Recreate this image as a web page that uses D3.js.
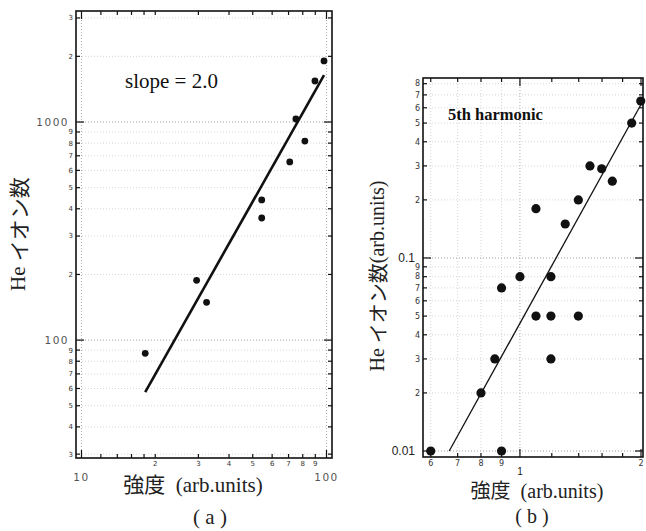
<!DOCTYPE html>
<html>
<head>
<meta charset="utf-8">
<script src="https://cdn.jsdelivr.net/npm/d3@7"></script>
<style>
  body { margin: 0; background: #fff; }
  svg { display: block; }
</style>
</head>
<body>
<div id="chart"></div>
<script>
// ---- data ----
// panel (a): He ion count vs intensity
const intensityA = [18.2, 29.5, 32.4, 54.4, 54.4, 70.8, 75, 81.6, 89.7, 97.7];
const ionsA = [87, 188, 149, 439, 363, 656, 1032, 818, 1542, 1905];
const fitIntensityA = [18.2, 97.7];
const fitIonsA = [57.7, 1640];
const xTicksA = [12, 14, 16, 18, 20, 30, 40, 50, 60, 70, 80, 90];
const yTicksA = [30, 40, 50, 60, 70, 80, 90, 200, 300, 400, 500, 600, 700, 800, 900, 2000, 3000];

// panel (b): 5th harmonic
const intensityB = [0.6, 0.8, 0.866, 0.9, 0.9, 1.0, 1.096, 1.096, 1.194, 1.194, 1.194, 1.296, 1.397, 1.397, 1.493, 1.597, 1.697, 1.896, 1.997];
const ionsB = [0.01, 0.02, 0.03, 0.07, 0.01, 0.08, 0.18, 0.05, 0.08, 0.05, 0.03, 0.15, 0.2, 0.05, 0.3, 0.29, 0.25, 0.5, 0.65];
const fitIntensityB = [0.667, 2.03];
const fitIonsB = [0.01, 0.66];
const xTicksB = [0.6, 0.7, 0.8, 0.9, 1.2, 1.4, 1.6, 1.8];
const yTicksB = [0.02, 0.03, 0.04, 0.05, 0.06, 0.07, 0.08, 0.09, 0.2, 0.3, 0.4, 0.5, 0.6, 0.7, 0.8];

const width = 646;
const height = 531;

const svg = d3.select("#chart")
  .append("svg")
  .attr("width", width)
  .attr("height", height);

const serif = "'Liberation Serif', serif";
const cjk = "'Noto Sans CJK JP', sans-serif";

// first digit of a tick value (9 for 900, 7 for 0.07 ...)
function leadDigit(v) {
  return String(Math.round(v / Math.pow(10, Math.floor(Math.log10(v) + 1e-9))));
}

// text made of pieces: [string, isCJK]
function addPieces(text, pieces) {
  pieces.forEach(([s, isCjk]) => {
    text.append("tspan")
      .attr("font-family", isCjk ? cjk : serif)
      .attr("xml:space", "preserve")
      .text(s);
  });
}

function drawPanel(p) {
  const x = d3.scaleLog().domain(p.xDomain).range(p.xRange);
  const y = d3.scaleLog().domain(p.yDomain).range(p.yRange);
  const [x0, x1] = p.xRange;
  const [y1, y0] = p.yRange; // y1 = bottom, y0 = top
  const g = svg.append("g");

  // dotted grid
  g.selectAll("line.vgrid")
    .data(p.xGrid)
    .enter().append("line")
    .attr("x1", d => x(d)).attr("x2", d => x(d))
    .attr("y1", y0).attr("y2", y1)
    .attr("stroke", d => p.xMajor.includes(d) ? "#999" : "#ccc")
    .attr("stroke-width", 0.8)
    .attr("stroke-dasharray", "1,2");

  g.selectAll("line.hgrid")
    .data(p.yTicks.concat(p.yMajor))
    .enter().append("line")
    .attr("x1", x0).attr("x2", x1)
    .attr("y1", d => y(d)).attr("y2", d => y(d))
    .attr("stroke", d => p.yMajor.includes(d) ? "#888" : "#ccc")
    .attr("stroke-width", 0.8)
    .attr("stroke-dasharray", "1,2");

  // inward ticks on all four sides
  const tickLen = d => (p.yMajor.includes(d) || p.xMajor.includes(d)) ? 8 : 4;
  const allX = p.xTicks.concat(p.xMajor);
  const allY = p.yTicks.concat(p.yMajor);

  const ticks = g.append("g").attr("stroke", "#111").attr("stroke-width", 1.2);
  allX.forEach(d => {
    ticks.append("line").attr("x1", x(d)).attr("x2", x(d)).attr("y1", y1).attr("y2", y1 - tickLen(d));
    ticks.append("line").attr("x1", x(d)).attr("x2", x(d)).attr("y1", y0).attr("y2", y0 + tickLen(d));
  });
  allY.forEach(d => {
    ticks.append("line").attr("y1", y(d)).attr("y2", y(d)).attr("x1", x0).attr("x2", x0 + tickLen(d));
    ticks.append("line").attr("y1", y(d)).attr("y2", y(d)).attr("x1", x1).attr("x2", x1 - tickLen(d));
  });

  // frame
  g.append("rect")
    .attr("x", x0).attr("y", y0)
    .attr("width", x1 - x0).attr("height", y1 - y0)
    .attr("fill", "none")
    .attr("stroke", "#111")
    .attr("stroke-width", 1.6);

  // tick labels
  g.selectAll("text.ylab")
    .data(p.yTicks)
    .enter().append("text")
    .attr("x", x0 - 3).attr("y", d => y(d))
    .attr("dy", "0.35em")
    .attr("text-anchor", "end")
    .attr("font-family", "'DejaVu Sans', sans-serif")
    .attr("font-size", p.minorFont)
    .attr("fill", "#333")
    .text(leadDigit);

  g.selectAll("text.ymaj")
    .data(p.yMajor)
    .enter().append("text")
    .attr("x", x0 - p.majorGap).attr("y", d => y(d))
    .attr("dy", "0.35em")
    .attr("text-anchor", "end")
    .attr("font-family", p.majorFamily)
    .attr("font-size", p.majorFont)
    .attr("letter-spacing", p.majorSpacing)
    .attr("fill", p.majorColor)
    .text(d => d);

  g.selectAll("text.xlab")
    .data(p.xLabeled)
    .enter().append("text")
    .attr("x", d => x(d)).attr("y", y1 + p.minorFont + 1)
    .attr("text-anchor", "middle")
    .attr("font-family", "'DejaVu Sans', sans-serif")
    .attr("font-size", p.minorFont)
    .attr("fill", "#333")
    .text(leadDigit);

  g.selectAll("text.xmaj")
    .data(p.xMajorLabels)
    .enter().append("text")
    .attr("x", d => x(d)).attr("y", y1 + p.xMajorOffset)
    .attr("text-anchor", "middle")
    .attr("font-family", p.majorFamily)
    .attr("font-size", p.xMajorFont)
    .attr("letter-spacing", p.majorSpacing)
    .attr("fill", p.majorColor)
    .text(d => d);

  // fit line
  const fit = p.fitX.map((v, i) => [v, p.fitY[i]]);
  g.append("path")
    .datum(fit)
    .attr("d", d3.line().x(d => x(d[0])).y(d => y(d[1])))
    .attr("stroke", "#111")
    .attr("stroke-width", p.lineWidth)
    .attr("fill", "none");

  // data points
  g.selectAll("circle")
    .data(p.xs.map((v, i) => [v, p.ys[i]]))
    .enter().append("circle")
    .attr("cx", d => x(d[0]))
    .attr("cy", d => y(d[1]))
    .attr("r", p.r)
    .attr("fill", "#111");

  // axis titles
  const yTitle = g.append("text")
    .attr("transform", `translate(${p.yTitlePos[0]},${p.yTitlePos[1]}) rotate(-90)`)
    .attr("text-anchor", "middle")
    .attr("dominant-baseline", "central")
    .attr("font-size", p.titleFont)
    .attr("fill", "#222");
  addPieces(yTitle, p.yTitle);

  const xTitle = g.append("text")
    .attr("x", p.xTitlePos[0]).attr("y", p.xTitlePos[1])
    .attr("text-anchor", "middle")
    .attr("font-size", p.titleFont)
    .attr("fill", "#222");
  addPieces(xTitle, [["強度", true], ["  (arb.units)", false]]);

  g.append("text")
    .attr("x", p.tagPos[0]).attr("y", p.tagPos[1])
    .attr("text-anchor", "middle")
    .attr("font-family", serif)
    .attr("font-size", p.titleFont)
    .attr("fill", "#222")
    .attr("xml:space", "preserve")
    .text(p.tag);

  g.append("text")
    .attr("x", p.notePos[0]).attr("y", p.notePos[1])
    .attr("font-family", serif)
    .attr("font-size", p.noteFont)
    .attr("font-weight", p.noteWeight)
    .attr("fill", "#111")
    .text(p.note);
}

// (a)
drawPanel({
  xDomain: [9.497, 105.3], xRange: [76, 332],
  yDomain: [28.8, 3228], yRange: [458, 11],
  xs: intensityA, ys: ionsA,
  fitX: fitIntensityA, fitY: fitIonsA,
  xTicks: xTicksA, xMajor: [10, 100], xGrid: [10, 100],
  xLabeled: [20, 30, 40, 50, 60, 70, 80, 90], xMajorLabels: [10, 100],
  yTicks: yTicksA, yMajor: [100, 1000],
  minorFont: 7, majorFont: 10.5, xMajorFont: 10.5, majorFamily: "'DejaVu Sans', sans-serif",
  majorSpacing: 1.5, majorColor: "#555", majorGap: 7, xMajorOffset: 23,
  r: 3.4, lineWidth: 2.6,
  yTitle: [["He ", false], ["イオン数", true]], yTitlePos: [18, 234], titleFont: 21,
  xTitlePos: [193, 492], tag: "( a )", tagPos: [210, 524],
  note: "slope = 2.0", notePos: [125, 88], noteFont: 21, noteWeight: "normal"
});

// (b)
drawPanel({
  xDomain: [0.574, 2.023], xRange: [423, 643],
  yDomain: [0.00931, 0.856], yRange: [457, 78],
  xs: intensityB, ys: ionsB,
  fitX: fitIntensityB, fitY: fitIonsB,
  xTicks: xTicksB, xMajor: [1, 2], xGrid: [0.6, 0.7, 0.8, 0.9, 1],
  xLabeled: [0.6, 0.7, 0.8, 0.9, 2], xMajorLabels: [1],
  yTicks: yTicksB, yMajor: [0.01, 0.1],
  minorFont: 8, majorFont: 12, xMajorFont: 10, majorFamily: "'Liberation Sans', sans-serif",
  majorSpacing: 0, majorColor: "#222", majorGap: 8, xMajorOffset: 18,
  r: 4.6, lineWidth: 1.3,
  yTitle: [["He ", false], ["イオン数", true], ["(arb.units)", false]], yTitlePos: [377, 276], titleFont: 20,
  xTitlePos: [537, 498], tag: "( b )", tagPos: [532, 523],
  note: "5th harmonic", notePos: [448, 120], noteFont: 16.5, noteWeight: "bold"
});
</script>
</body>
</html>
